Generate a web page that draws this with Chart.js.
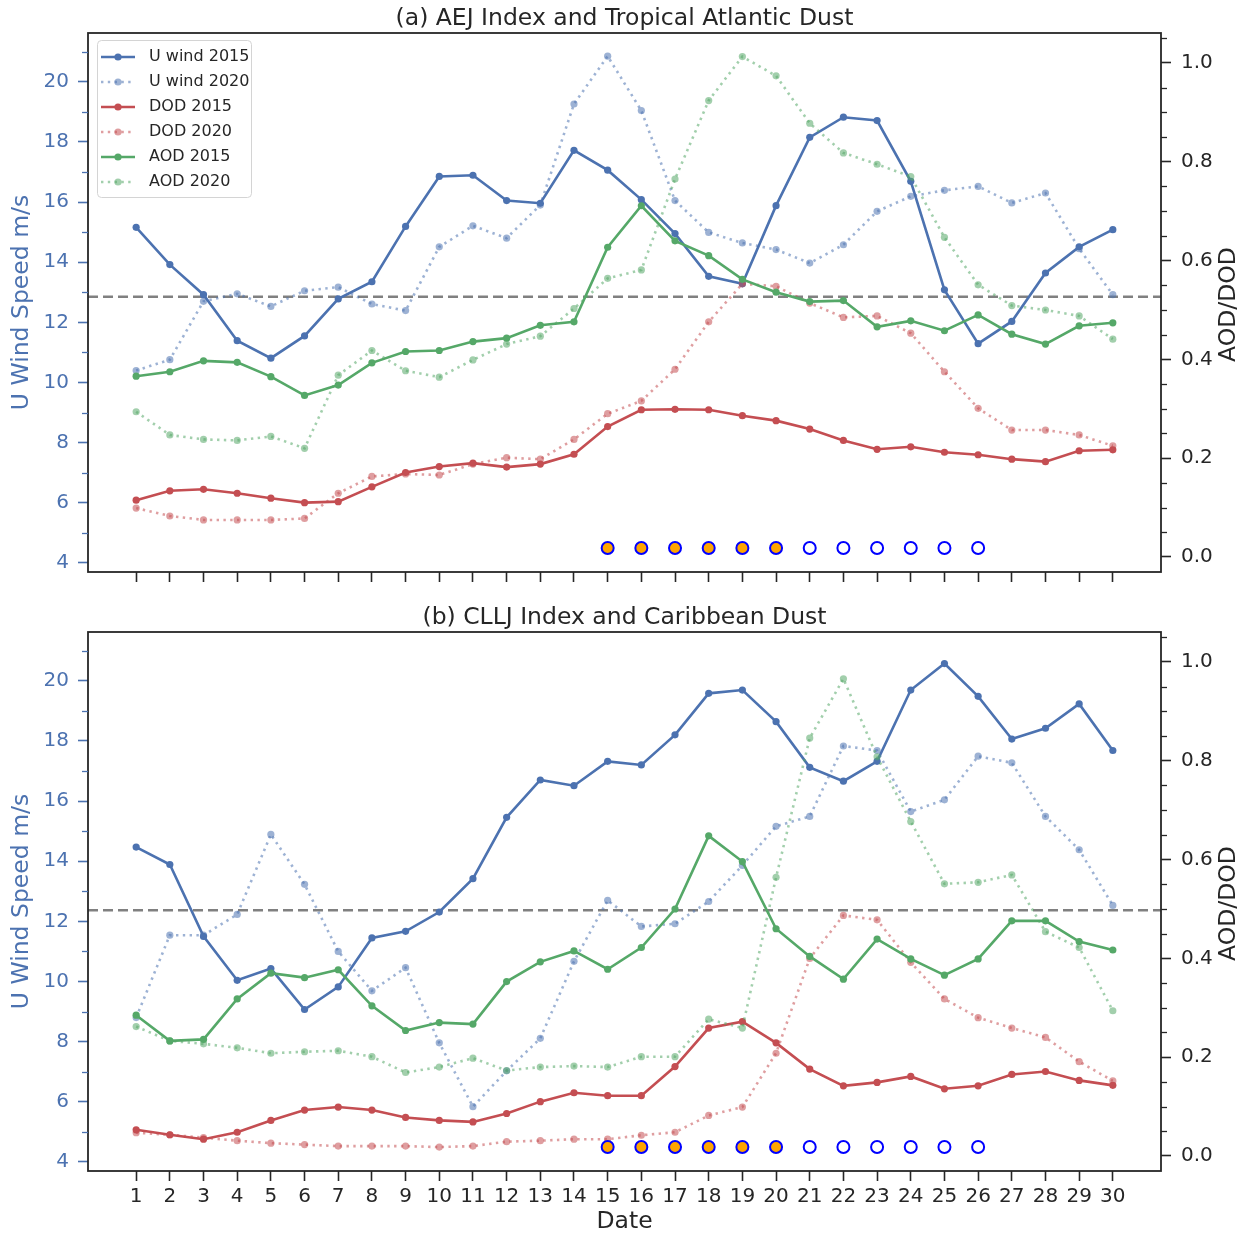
<!DOCTYPE html>
<html>
<head>
<meta charset="utf-8">
<script src="https://cdn.jsdelivr.net/npm/chart.js@4.4.1/dist/chart.umd.min.js"></script>
<style>
  html, body { margin: 0; padding: 0; background: #ffffff; }
  canvas { position: absolute; left: 0; }
</style>
</head>
<body>
<canvas id="chartA" width="1249" height="600" style="top:0px;width:1249px;height:600px"></canvas>
<canvas id="chartB" width="1249" height="636" style="top:600px;width:1249px;height:636px"></canvas>
<script>
// ---------------- data ----------------
const days = [1,2,3,4,5,6,7,8,9,10,11,12,13,14,15,16,17,18,19,20,21,22,23,24,25,26,27,28,29,30];
const seriesNames = ['U wind 2015','U wind 2020','DOD 2015','DOD 2020','AOD 2015','AOD 2020'];

// Panel (a): AEJ Index and Tropical Atlantic Dust
const titleA = '(a) AEJ Index and Tropical Atlantic Dust';
const uwind2015A = [15.16,13.92,12.92,11.39,10.81,11.55,12.78,13.35,15.19,16.85,16.89,16.05,15.96,17.72,17.06,16.08,14.95,13.53,13.28,15.88,18.15,18.82,18.71,16.69,13.08,11.29,12.03,13.64,14.51,15.08];
const uwind2020A = [10.40,10.76,12.70,12.95,12.53,13.05,13.17,12.61,12.39,14.51,15.21,14.80,15.90,19.26,20.85,19.04,16.05,14.99,14.64,14.42,13.97,14.58,15.69,16.19,16.39,16.52,15.97,16.30,14.45,12.92];
const dod2015A = [0.115,0.134,0.137,0.129,0.119,0.110,0.112,0.142,0.171,0.183,0.190,0.182,0.188,0.208,0.264,0.298,0.299,0.298,0.286,0.276,0.259,0.236,0.218,0.223,0.212,0.207,0.198,0.193,0.215,0.217];
const dod2020A = [0.099,0.083,0.075,0.075,0.075,0.078,0.129,0.163,0.168,0.166,0.188,0.201,0.198,0.238,0.290,0.316,0.380,0.476,0.553,0.548,0.514,0.485,0.488,0.453,0.375,0.301,0.257,0.257,0.247,0.225];
const aod2015A = [0.366,0.375,0.397,0.394,0.365,0.327,0.348,0.393,0.416,0.418,0.436,0.443,0.469,0.476,0.627,0.711,0.640,0.610,0.562,0.536,0.517,0.519,0.466,0.478,0.458,0.490,0.451,0.431,0.468,0.474];
const aod2020A = [0.294,0.247,0.238,0.236,0.244,0.220,0.368,0.418,0.377,0.364,0.399,0.431,0.447,0.503,0.564,0.581,0.765,0.924,1.013,0.974,0.878,0.818,0.795,0.770,0.647,0.551,0.509,0.500,0.488,0.441];
const thresholdA = 12.85;

// Panel (b): CLLJ Index and Caribbean Dust
const titleB = '(b) CLLJ Index and Caribbean Dust';
const uwind2015B = [14.47,13.89,11.50,10.04,10.43,9.07,9.82,11.45,11.67,12.31,13.42,15.46,16.70,16.51,17.32,17.20,18.20,19.58,19.69,18.64,17.12,16.66,17.32,19.69,20.57,19.48,18.06,18.42,19.23,17.68];
const uwind2020B = [8.80,11.54,11.54,12.23,14.89,13.23,11.00,9.69,10.46,7.96,5.84,7.03,8.11,10.67,12.70,11.83,11.92,12.66,13.86,15.16,15.49,17.83,17.68,15.65,16.04,17.49,17.27,15.49,14.38,12.53];
const dod2015B = [0.053,0.043,0.034,0.048,0.072,0.093,0.099,0.093,0.078,0.072,0.069,0.086,0.110,0.128,0.122,0.122,0.181,0.259,0.272,0.229,0.176,0.142,0.149,0.161,0.136,0.142,0.165,0.171,0.153,0.143];
const dod2020B = [0.047,0.043,0.037,0.031,0.026,0.023,0.020,0.020,0.020,0.018,0.020,0.029,0.031,0.034,0.034,0.042,0.048,0.082,0.099,0.208,0.400,0.487,0.478,0.392,0.318,0.280,0.259,0.240,0.191,0.152];
const aod2015B = [0.285,0.233,0.236,0.318,0.370,0.361,0.377,0.304,0.254,0.270,0.267,0.353,0.393,0.415,0.378,0.422,0.500,0.648,0.596,0.460,0.404,0.358,0.439,0.399,0.366,0.399,0.476,0.476,0.434,0.417];
const aod2020B = [0.262,0.233,0.227,0.219,0.208,0.211,0.213,0.201,0.169,0.180,0.198,0.173,0.180,0.182,0.180,0.201,0.201,0.277,0.259,0.564,0.846,0.966,0.808,0.677,0.551,0.554,0.569,0.454,0.422,0.294];
const thresholdB = 12.37;

// Event markers along the bottom of each panel
const markerDays = [15,16,17,18,19,20,21,22,23,24,25,26];
const markerFilled = [true,true,true,true,true,true,false,false,false,false,false,false];
const markerLevel = 4.5;

// Axis ranges and ticks
const X_MIN = -0.43, X_MAX = 31.43;
const LEFT_MIN = 3.70, LEFT_MAX = 21.62;
const RIGHT_MIN = -0.0304, RIGHT_MAX = 1.0607;
const leftTicks = [4,6,8,10,12,14,16,18,20];
const leftMinorTicks = [5,7,9,11,13,15,17,19,21];
const rightTicks = [0.0,0.2,0.4,0.6,0.8,1.0];
const rightMinorTicks = [0.05,0.1,0.15,0.25,0.3,0.35,0.45,0.5,0.55,0.65,0.7,0.75,0.85,0.9,0.95,1.05];
const leftAxisTitle = 'U Wind Speed m/s';
const rightAxisTitle = 'AOD/DOD';
const xAxisTitle = 'Date';

// ---------------- style ----------------
const BLUE = '#4C72B0', RED = '#C44E52', GREEN = '#55A868';
const INK = '#262626';
const FONT = "'DejaVu Sans', 'Liberation Sans', sans-serif";
function rgba(hex, a) {
  const n = parseInt(hex.slice(1), 16);
  return 'rgba(' + ((n >> 16) & 255) + ',' + ((n >> 8) & 255) + ',' + (n & 255) + ',' + a + ')';
}
const LW = 2.6;
const DOTS = [2.4, 4.4];

function legendImage(color, dotted) {
  const c = document.createElement('canvas');
  c.width = 43; c.height = 12;
  const g = c.getContext('2d');
  g.strokeStyle = color; g.lineWidth = LW;
  if (dotted) g.setLineDash(DOTS);
  g.beginPath(); g.moveTo(3, 6); g.lineTo(37, 6); g.stroke();
  g.setLineDash([]);
  g.fillStyle = color;
  g.beginPath(); g.arc(20, 6, 3.6, 0, Math.PI * 2); g.fill();
  return c;
}

function series(label, values, color, dotted, axis, idx) {
  const col = dotted ? rgba(color, 0.55) : color;
  return {
    label: label,
    data: days.map((d, i) => ({ x: d, y: values[i] })),
    yAxisID: axis,
    borderColor: col,
    backgroundColor: col,
    borderWidth: LW,
    borderDash: dotted ? DOTS : [],
    pointRadius: 3.6,
    pointHoverRadius: 3.6,
    pointBackgroundColor: col,
    pointBorderWidth: 0,
    tension: 0,
    fill: false,
    order: -idx
  };
}

function makeDecor(showLegend) {
  return {
    id: 'decor',
    afterLayout(chart) {
      if (!showLegend || !chart.legend) return;
      const a = chart.chartArea;
      const lg = chart.legend;
      lg.left = a.left + 1; lg.top = a.top + 7;
      lg.right = a.left + 300; lg.bottom = a.bottom;
    },
    beforeDraw(chart) {
      if (!showLegend) return;
      const a = chart.chartArea, ctx = chart.ctx;
      const x = a.left + 9.5, y = a.top + 7.5, w = 154, h = 157, r = 4;
      ctx.save();
      ctx.beginPath();
      ctx.moveTo(x + r, y);
      ctx.lineTo(x + w - r, y); ctx.quadraticCurveTo(x + w, y, x + w, y + r);
      ctx.lineTo(x + w, y + h - r); ctx.quadraticCurveTo(x + w, y + h, x + w - r, y + h);
      ctx.lineTo(x + r, y + h); ctx.quadraticCurveTo(x, y + h, x, y + h - r);
      ctx.lineTo(x, y + r); ctx.quadraticCurveTo(x, y, x + r, y);
      ctx.closePath();
      ctx.fillStyle = 'rgba(255,255,255,0.85)';
      ctx.fill();
      ctx.strokeStyle = '#d4d4d4';
      ctx.lineWidth = 1;
      ctx.stroke();
      ctx.restore();
    },
    afterDatasetsDraw(chart) {
      const a = chart.chartArea, ctx = chart.ctx;
      ctx.save();
      ctx.strokeStyle = INK;
      ctx.lineWidth = 1.8;
      ctx.strokeRect(a.left, a.top, a.right - a.left, a.bottom - a.top);
      ctx.restore();
    },
    afterDraw(chart) {
      const a = chart.chartArea, ctx = chart.ctx;
      const yl = chart.scales.yL, yr = chart.scales.yR;
      ctx.save();
      ctx.lineWidth = 1.3;
      ctx.strokeStyle = BLUE;
      leftMinorTicks.forEach(v => {
        const p = Math.round(yl.getPixelForValue(v)) + 0.5;
        ctx.beginPath(); ctx.moveTo(a.left - 6, p); ctx.lineTo(a.left, p); ctx.stroke();
      });
      ctx.strokeStyle = INK;
      rightMinorTicks.forEach(v => {
        const p = Math.round(yr.getPixelForValue(v)) + 0.5;
        ctx.beginPath(); ctx.moveTo(a.right, p); ctx.lineTo(a.right + 6, p); ctx.stroke();
      });
      // right axis title (reads bottom-to-top)
      ctx.translate(a.right + 68, (a.top + a.bottom) / 2 + 2);
      ctx.rotate(-Math.PI / 2);
      ctx.fillStyle = INK;
      ctx.font = '23.5px ' + FONT;
      ctx.textAlign = 'center';
      ctx.textBaseline = 'middle';
      ctx.fillText(rightAxisTitle, 0, 0);
      ctx.restore();
    }
  };
}

function makeChart(canvasId, title, u15, u20, d15, d20, a15, a20, threshold, opts) {
  const imgs = [
    legendImage(BLUE, false), legendImage(rgba(BLUE, 0.55), true),
    legendImage(RED, false), legendImage(rgba(RED, 0.55), true),
    legendImage(GREEN, false), legendImage(rgba(GREEN, 0.55), true)
  ];
  const datasets = [
    {
      label: 'threshold',
      data: [{ x: X_MIN, y: threshold }, { x: X_MAX, y: threshold }],
      yAxisID: 'yL',
      borderColor: '#808080',
      borderWidth: 2.6,
      borderDash: [10, 5],
      pointRadius: 0,
      pointHoverRadius: 0,
      fill: false,
      order: 10
    },
    series(seriesNames[0], u15, BLUE, false, 'yL', 1),
    series(seriesNames[1], u20, BLUE, true, 'yL', 2),
    series(seriesNames[2], d15, RED, false, 'yR', 3),
    series(seriesNames[3], d20, RED, true, 'yR', 4),
    series(seriesNames[4], a15, GREEN, false, 'yR', 5),
    series(seriesNames[5], a20, GREEN, true, 'yR', 6),
    {
      label: 'events',
      data: markerDays.map(d => ({ x: d, y: markerLevel })),
      yAxisID: 'yL',
      showLine: false,
      pointRadius: 6,
      pointHoverRadius: 6,
      pointBorderWidth: 2,
      pointBorderColor: '#0000FF',
      pointBackgroundColor: markerFilled.map(f => f ? '#FFA500' : 'rgba(255,255,255,0)'),
      order: -20
    }
  ];

  return new Chart(document.getElementById(canvasId), {
    type: 'line',
    data: { datasets: datasets },
    plugins: [makeDecor(opts.legend)],
    options: {
      responsive: false,
      maintainAspectRatio: false,
      devicePixelRatio: 1,
      animation: false,
      events: [],
      layout: { padding: 0 },
      plugins: {
        tooltip: { enabled: false },
        title: {
          display: true,
          text: title,
          color: INK,
          font: { family: FONT, size: 23.5, weight: 'normal' },
          padding: { top: opts.titleTop, bottom: 0 }
        },
        legend: {
          display: opts.legend,
          position: 'chartArea',
          align: 'start',
          labels: {
            usePointStyle: true,
            pointStyleWidth: 43,
            boxHeight: 12,
            padding: 9,
            color: INK,
            font: { family: FONT, size: 16 },
            generateLabels: (chart) => seriesNames.map((name, i) => ({
              text: name,
              pointStyle: imgs[i],
              fillStyle: 'rgba(0,0,0,0)',
              strokeStyle: 'rgba(0,0,0,0)',
              lineWidth: 0,
              hidden: false,
              fontColor: INK,
              datasetIndex: i + 1
            }))
          }
        }
      },
      scales: {
        x: {
          type: 'linear',
          min: X_MIN,
          max: X_MAX,
          afterBuildTicks: s => { s.ticks = days.map(v => ({ value: v })); },
          afterFit: s => { s.height = opts.xHeight; },
          ticks: {
            display: opts.xLabels,
            autoSkip: false,
            maxRotation: 0,
            minRotation: 0,
            padding: 4,
            color: INK,
            font: { family: FONT, size: 20 },
            callback: v => String(v)
          },
          grid: { display: true, drawOnChartArea: false, drawTicks: true, tickLength: 10, tickColor: INK, tickWidth: 1.6 },
          border: { display: false },
          title: {
            display: opts.xLabels,
            text: xAxisTitle,
            color: INK,
            font: { family: FONT, size: 23.5 },
            padding: { top: 0, bottom: 0 }
          }
        },
        yL: {
          type: 'linear',
          position: 'left',
          min: LEFT_MIN,
          max: LEFT_MAX,
          afterBuildTicks: s => { s.ticks = leftTicks.map(v => ({ value: v })); },
          afterFit: s => { s.width = 88; },
          ticks: {
            padding: 9,
            color: BLUE,
            font: { family: FONT, size: 20 },
            callback: v => String(v)
          },
          grid: { display: true, drawOnChartArea: false, drawTicks: true, tickLength: 10, tickColor: BLUE, tickWidth: 1.6 },
          border: { display: false },
          title: {
            display: true,
            text: leftAxisTitle,
            color: BLUE,
            font: { family: FONT, size: 23.5 },
            padding: { top: 8, bottom: 0 }
          }
        },
        yR: {
          type: 'linear',
          position: 'right',
          min: RIGHT_MIN,
          max: RIGHT_MAX,
          afterBuildTicks: s => { s.ticks = rightTicks.map(v => ({ value: v })); },
          afterFit: s => { s.width = 88; },
          ticks: {
            padding: 10,
            color: INK,
            font: { family: FONT, size: 20 },
            callback: v => Number(v).toFixed(1)
          },
          grid: { display: true, drawOnChartArea: false, drawTicks: true, tickLength: 10, tickColor: INK, tickWidth: 1.6 },
          border: { display: false }
        }
      }
    }
  });
}

makeChart('chartA', titleA, uwind2015A, uwind2020A, dod2015A, dod2020A, aod2015A, aod2020A, thresholdA,
  { legend: true, xLabels: false, xHeight: 28, titleTop: 4.8 });
makeChart('chartB', titleB, uwind2015B, uwind2020B, dod2015B, dod2020B, aod2015B, aod2020B, thresholdB,
  { legend: false, xLabels: true, xHeight: 65, titleTop: 3.8 });
</script>
</body>
</html>
